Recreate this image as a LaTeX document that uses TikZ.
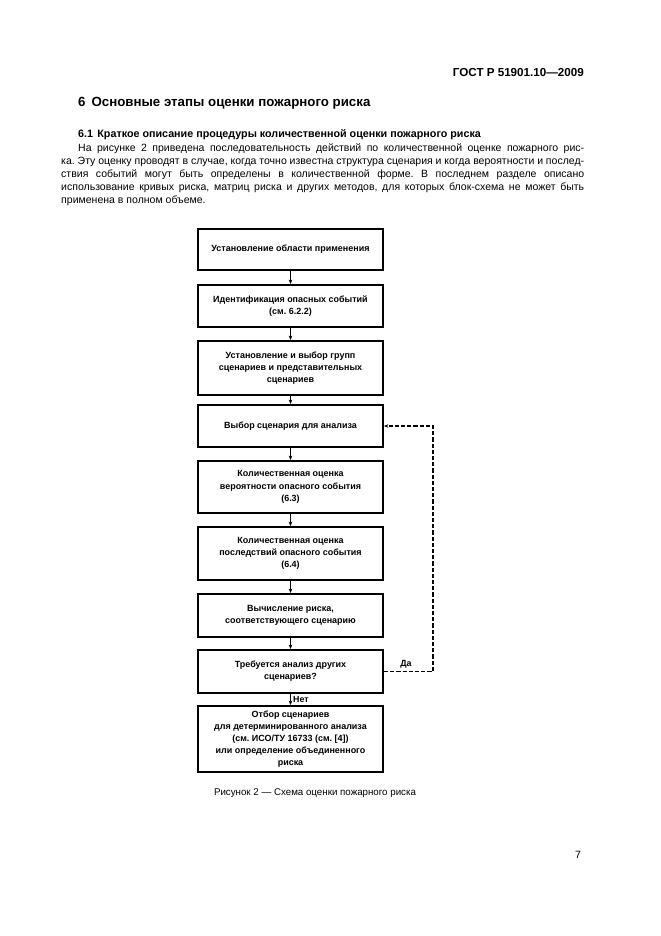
\documentclass[tikz,border=0pt]{standalone}
\usepackage{fontspec}
\setmainfont{Liberation Sans}
\usetikzlibrary{arrows.meta}
\frenchspacing
\newcommand{\bodyfont}{\fontsize{9.5}{11.7}\selectfont}
\begin{document}
\begin{tikzpicture}[x=0.3175mm,y=-0.3175mm,
  box/.style={draw, line width=1.8pt, minimum width=58.7mm, minimum height=#1*0.3175mm,
    inner sep=1pt, align=center, font=\bfseries\fontsize{8.1}{11}\selectfont},
  arr/.style={line width=0.8pt, -{Stealth[length=4pt,width=3.2pt]}},
  dasharr/.style={line width=1.2pt, dash pattern=on 3.8pt off 1.8pt, -{Stealth[length=4pt,width=3.2pt]}},
  lbl/.style={font=\bfseries\fontsize{8}{9}\selectfont, inner sep=1pt},
  body/.style={anchor=base west, inner sep=0pt, font=\bodyfont}]
\useasboundingbox (0,0) rectangle (661,936);
\fill[white] (0,0) rectangle (661,936);

% header and text
\node[anchor=base east, inner sep=0pt, font=\bfseries\fontsize{10.5}{12}\selectfont] (hdr) at (584,76) {ГОСТ Р 51901.10—2009};
\node[anchor=base west, inner sep=0pt, font=\bfseries\fontsize{12}{14}\selectfont] (h6) at (78,106) {6\hspace{0.45em}Основные этапы оценки пожарного риска};
\node[anchor=base west, inner sep=0pt, font=\bfseries\fontsize{9.7}{11.7}\selectfont] (h61) at (78,137) {6.1\hspace{0.4em}Краткое описание процедуры количественной оценки пожарного риска};
\node[body] (p1) at (78,151) {\makebox[160.66mm][s]{На рисунке 2 приведена последовательность действий по количественной оценке пожарного рис-}};
\node[body] (p2) at (61,164) {\makebox[166.05mm][s]{ка. Эту оценку проводят в случае, когда точно известна структура сценария и когда вероятности и послед-}};
\node[body] (p3) at (61,177) {\makebox[166.05mm][s]{ствия событий могут быть определены в количественной форме. В последнем разделе описано}};
\node[body] (p4) at (61,190) {\makebox[166.05mm][s]{использование кривых риска, матриц риска и других методов, для которых блок-схема не может быть}};
\node[body] (p5) at (61,203) {применена в полном объеме.};

% flowchart
\node[box=41] (b1) at (290.5,249.5) {Установление области применения};
\node[box=42] (b2) at (290.5,306) {Идентификация опасных событий\\(см. 6.2.2)};
\node[box=54] (b3) at (290.5,368) {Установление и выбор групп\\сценариев и представительных\\сценариев};
\node[box=42] (b4) at (290.5,426) {Выбор сценария для анализа};
\node[box=52] (b5) at (290.5,487) {Количественная оценка\\вероятности опасного события\\(6.3)};
\node[box=53] (b6) at (290.5,553.5) {Количественная оценка\\последствий опасного события\\(6.4)};
\node[box=43] (b7) at (290.5,615.5) {Вычисление риска,\\соответствующего сценарию};
\node[box=43] (b8) at (290.5,671.5) {Требуется анализ других\\сценариев?};
\node[box=66] (b9) at (290.5,739) {Отбор сценариев\\для детерминированного анализа\\(см. ИСО/ТУ 16733 (см. [4])\\или определение объединенного\\риска};

\draw[arr] (b1) -- (b2);
\draw[arr] (b2) -- (b3);
\draw[arr] (b3) -- (b4);
\draw[arr] (b4) -- (b5);
\draw[arr] (b5) -- (b6);
\draw[arr] (b6) -- (b7);
\draw[arr] (b7) -- (b8);
\draw[arr] (b8) -- node[lbl, anchor=west, xshift=1pt] (no) {Нет} (b9);
\coordinate (c1) at (433,671.5);
\draw[dasharr] (b8.east) -- node[lbl, anchor=south, pos=0.45, yshift=1pt] (yes) {Да} (c1) |- (b4.east);

% caption and page number
\node[anchor=base, inner sep=0pt, font=\fontsize{8.8}{10}\selectfont] (cap) at (315,795) {Рисунок 2 — Схема оценки пожарного риска};
\node[anchor=base, inner sep=0pt, font=\bodyfont] (pg) at (578,858) {7};
\end{tikzpicture}
\end{document}
